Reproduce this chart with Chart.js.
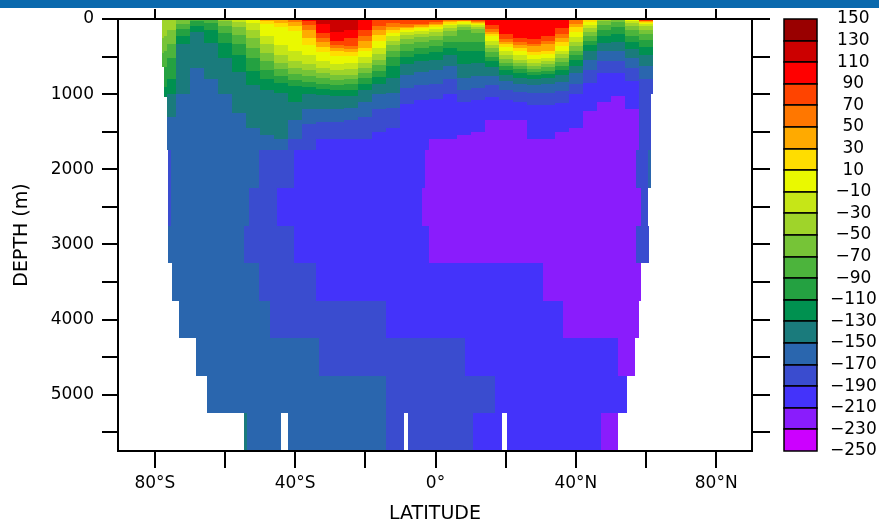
<!DOCTYPE html>
<html>
<head>
<meta charset="utf-8">
<title>Zonal section</title>
<script src="https://cdn.jsdelivr.net/npm/chart.js@4.4.1/dist/chart.umd.min.js"></script>
<style>
  body { margin: 0; background: #fff; }
  #wrap { position: relative; width: 879px; height: 525px; }
  #band { position: absolute; left: 0; top: 0; width: 879px; height: 8px; background: #0a69ad; }
  canvas { position: absolute; left: 0; top: 0; }
</style>
</head>
<body>
<div id="wrap">
  <div id="band"></div>
  <canvas id="section" width="879" height="525"></canvas>
</div>
<script>
// contour levels, top of the colour bar first
const levelTicks = [150, 130, 110, 90, 70, 50, 30, 10, -10, -30, -50, -70, -90, -110, -130, -150, -170, -190, -210, -230, -250];
const levelColors = ['#990000', '#cc0000', '#ff0000', '#ff4400', '#ff7700', '#ffaa00', '#ffdd00', '#eaf900', '#c6e617', '#9fd42a',
  '#76c437', '#4cb43c', '#24a141', '#009150', '#1a7b7c', '#2a66ae', '#3a4ccf', '#4433fa', '#8a1cfc', '#cc00ff'];

const latTicks = [-80, -60, -40, -20, 0, 20, 40, 60, 80];
const depthTicks = [0, 500, 1000, 1500, 2000, 2500, 3000, 3500, 4000, 4500, 5000, 5500];

// upper 1750 m: one column per latitude strip, as [value, bottom depth] pairs from the surface down
const upperLatEdges = [-78, -77.5, -76.5, -74, -70, -66, -62, -58, -54, -50, -46, -42, -38, -34, -30, -26, -22, -18, -14, -10,
  -6, -2, 2, 6, 10, 14, 18, 22, 26, 30, 34, 38, 42, 46, 50, 54, 58, 61.3, 62];
const upperBands = [
  [-40, 250, -60, 450, -80, 640],
  [-40, 230, -60, 430, -80, 640, -100, 900, -120, 1040],
  [-40, 150, -60, 330, -80, 520, -100, 800, -120, 1000, -140, 1300, -160, 1750],
  [-60, 60, -80, 130, -100, 220, -120, 330, -140, 1000, -160, 1750],
  [-80, 30, -100, 90, -120, 170, -140, 650, -160, 1750],
  [-80, 50, -100, 140, -120, 320, -140, 800, -160, 1750],
  [-40, 30, -60, 90, -80, 190, -100, 320, -120, 520, -140, 1000, -160, 1750],
  [-20, 40, -40, 110, -60, 210, -80, 330, -100, 480, -120, 700, -140, 1250, -160, 1750],
  [0, 50, -20, 140, -40, 250, -60, 380, -80, 520, -100, 690, -120, 880, -140, 1450, -160, 1750],
  [40, 20, 20, 70, 0, 220, -20, 330, -40, 450, -60, 560, -80, 680, -100, 800, -120, 950, -140, 1550, -160, 1750],
  [40, 50, 20, 110, 0, 350, -20, 480, -40, 580, -60, 670, -80, 760, -100, 850, -120, 980, -140, 1600, -160, 1750],
  [60, 40, 40, 90, 20, 160, 0, 420, -20, 560, -40, 650, -60, 730, -80, 810, -100, 890, -120, 1100, -140, 1350, -160, 1600, -180, 1750],
  [100, 20, 80, 80, 60, 150, 40, 250, 20, 350, 0, 480, -20, 600, -40, 680, -60, 760, -80, 840, -100, 910, -120, 1000, -140, 1200, -160, 1400, -180, 1750],
  [120, 70, 100, 190, 80, 250, 60, 300, 40, 370, 20, 440, 0, 560, -20, 650, -40, 720, -60, 790, -80, 860, -100, 930, -120, 1010, -140, 1200, -160, 1370, -180, 1600, -200, 1750],
  [120, 170, 100, 290, 80, 350, 60, 390, 40, 430, 20, 490, 0, 600, -20, 680, -40, 750, -60, 810, -80, 880, -100, 950, -120, 1030, -140, 1200, -160, 1370, -180, 1600, -200, 1750],
  [120, 140, 100, 250, 80, 360, 60, 400, 40, 440, 20, 490, 0, 590, -20, 670, -40, 740, -60, 800, -80, 870, -100, 940, -120, 1020, -140, 1180, -160, 1350, -180, 1600, -200, 1750],
  [100, 150, 80, 230, 60, 290, 40, 380, 20, 430, 0, 510, -20, 580, -40, 650, -60, 720, -80, 790, -100, 860, -120, 940, -140, 1100, -160, 1300, -180, 1600, -200, 1750],
  [80, 90, 60, 150, 40, 210, 20, 290, 0, 390, -20, 470, -40, 540, -60, 610, -80, 690, -100, 770, -120, 860, -140, 1000, -160, 1200, -180, 1500, -200, 1750],
  [80, 50, 60, 100, 40, 140, 20, 180, 0, 230, -20, 290, -40, 350, -60, 420, -80, 500, -100, 620, -120, 780, -140, 980, -160, 1180, -180, 1450, -200, 1750],
  [80, 70, 60, 100, 40, 120, 20, 145, 0, 175, -20, 215, -40, 265, -60, 330, -80, 420, -100, 500, -120, 600, -140, 740, -160, 920, -180, 1130, -200, 1750],
  [80, 60, 60, 85, 40, 105, 20, 125, 0, 155, -20, 195, -40, 245, -60, 305, -80, 385, -100, 465, -120, 565, -140, 700, -160, 880, -180, 1080, -200, 1750],
  [80, 40, 60, 65, 40, 85, 20, 105, 0, 135, -20, 175, -40, 225, -60, 285, -80, 355, -100, 440, -120, 540, -140, 680, -160, 860, -180, 1060, -200, 1600, -220, 1750],
  [60, 30, 40, 45, 20, 60, 0, 85, -20, 115, -40, 160, -60, 220, -80, 300, -100, 380, -120, 480, -140, 620, -160, 800, -180, 1000, -200, 1600, -220, 1750],
  [60, 20, 20, 40, 0, 60, -20, 80, -40, 100, -60, 140, -80, 300, -100, 430, -120, 600, -140, 780, -160, 940, -180, 1100, -200, 1550, -220, 1750],
  [80, 20, 60, 35, 40, 50, 20, 65, 0, 85, -20, 105, -40, 135, -60, 180, -80, 300, -100, 420, -120, 580, -140, 760, -160, 920, -180, 1080, -200, 1500, -220, 1750],
  [100, 80, 80, 130, 60, 170, 40, 200, 20, 230, 0, 290, -20, 340, -40, 390, -60, 440, -80, 500, -100, 560, -120, 640, -140, 760, -160, 880, -180, 1040, -200, 1350, -220, 1750],
  [100, 200, 80, 260, 60, 300, 40, 330, 20, 370, 0, 430, -20, 480, -40, 530, -60, 580, -80, 630, -100, 680, -120, 740, -140, 830, -160, 950, -180, 1080, -200, 1350, -220, 1750],
  [100, 250, 80, 300, 60, 340, 40, 380, 20, 420, 0, 480, -20, 540, -40, 590, -60, 630, -80, 670, -100, 720, -120, 780, -140, 860, -160, 970, -180, 1100, -200, 1350, -220, 1750],
  [100, 260, 80, 330, 60, 360, 40, 440, 20, 480, 0, 530, -20, 580, -40, 620, -60, 660, -80, 700, -100, 740, -120, 800, -140, 880, -160, 990, -180, 1150, -200, 1600, -220, 1750],
  [100, 220, 80, 290, 60, 330, 40, 420, 20, 470, 0, 520, -20, 560, -40, 600, -60, 640, -80, 690, -100, 730, -120, 790, -140, 870, -160, 980, -180, 1150, -200, 1600, -220, 1750],
  [100, 120, 80, 200, 60, 250, 40, 300, 20, 360, 0, 420, -20, 470, -40, 520, -60, 570, -80, 620, -100, 680, -120, 750, -140, 840, -160, 960, -180, 1120, -200, 1500, -220, 1750],
  [60, 60, 40, 110, 20, 170, 0, 240, -20, 300, -40, 360, -60, 420, -80, 480, -100, 540, -120, 620, -140, 720, -160, 860, -180, 1000, -200, 1450, -220, 1750],
  [20, 40, 0, 80, -20, 120, -40, 170, -60, 230, -80, 290, -100, 350, -120, 430, -140, 540, -160, 680, -180, 850, -200, 1230, -220, 1750],
  [-40, 30, -60, 80, -80, 150, -100, 230, -120, 320, -140, 430, -160, 560, -180, 720, -200, 1100, -220, 1750],
  [-60, 40, -80, 110, -100, 200, -120, 300, -140, 420, -160, 560, -180, 720, -200, 1030, -220, 1750],
  [0, 20, -20, 50, -40, 90, -60, 150, -80, 220, -100, 300, -120, 400, -140, 520, -160, 650, -180, 820, -200, 1200, -220, 1750],
  [80, 20, 40, 40, 20, 55, 0, 70, -20, 90, -40, 140, -60, 200, -80, 280, -100, 370, -120, 480, -140, 620, -160, 800, -180, 1750],
  [80, 20, 40, 40, 20, 55, 0, 70, -20, 90, -40, 140, -60, 200, -80, 280, -100, 370, -120, 480, -140, 620, -160, 800, -180, 1000]
];

// deep layers below 1750 m: [south edge, north edge, value]
const deepDepths = [1750, 2250, 2750, 3250, 3750, 4250, 4750, 5250, 5750];
const deepLayers = [
  [[-76.3, -75.4, -180], [-75.4, -50.2, -160], [-50.2, -40.2, -180], [-40.2, -2.9, -200], [-2.9, 57.1, -220], [57.1, 60.5, -180], [60.5, 61.4, -160]],
  [[-76.3, -75.4, -180], [-75.4, -53.3, -160], [-53.3, -45.2, -180], [-45.2, -3.8, -200], [-3.8, 58.6, -220], [58.6, 60.5, -180]],
  [[-76.3, -54.5, -160], [-54.5, -40.2, -180], [-40.2, -1.9, -200], [-1.9, 57.1, -220], [57.1, 60.9, -180]],
  [[-75.1, -50.2, -160], [-50.2, -34, -180], [-34, 30.5, -200], [30.5, 58.7, -220]],
  [[-73.1, -47.1, -160], [-47.1, -14, -180], [-14, 36.2, -200], [36.2, 58.1, -220]],
  [[-68.3, -33.3, -160], [-33.3, 8.4, -180], [8.4, 52.1, -200], [52.1, 56.8, -220]],
  [[-65, -14, -160], [-14, 16.9, -180], [16.9, 54.7, -200]],
  [[-54.5, -53.8, -140], [-53.8, -44, -160], [-42.1, -14, -160], [-14, -9, -180], [-7.9, 10.8, -180], [10.8, 19, -200], [20.3, 47.1, -200], [47.1, 52.1, -220]]
];

const MINUS = '\u2212';
const FONT = 'DejaVu Sans';

function colorFor(v) {
  let i = Math.floor((levelTicks[0] - v) / 20);
  i = Math.max(0, Math.min(levelColors.length - 1, i));
  return levelColors[i];
}

function latLabel(v) {
  if (v % 40 !== 0) return '';
  if (v === 0) return '0°';
  return v < 0 ? (-v) + '°S' : v + '°N';
}

// filled section cells and the colour bar, both placed through the chart scales
const shading = {
  id: 'shading',
  beforeDatasetsDraw(chart) {
    const { ctx, scales, chartArea } = chart;
    const x = scales.x, y = scales.y, cb = scales.cbar;
    const cell = (lat0, lat1, d0, d1, v) => {
      const x0 = Math.round(x.getPixelForValue(lat0));
      const x1 = Math.round(x.getPixelForValue(lat1));
      const y0 = Math.round(y.getPixelForValue(d0));
      const y1 = Math.round(y.getPixelForValue(d1));
      ctx.fillStyle = colorFor(v);
      ctx.fillRect(x0, y0, x1 - x0, y1 - y0);
    };
    ctx.save();
    upperBands.forEach((bands, i) => {
      let top = 0;
      for (let k = 0; k < bands.length; k += 2) {
        cell(upperLatEdges[i], upperLatEdges[i + 1], top, bands[k + 1], bands[k]);
        top = bands[k + 1];
      }
    });
    deepLayers.forEach((layer, j) => {
      layer.forEach(([lat0, lat1, v]) => cell(lat0, lat1, deepDepths[j], deepDepths[j + 1], v));
    });

    // colour bar boxes, a little to the right of the frame
    const left = Math.round(chartArea.right) + 32, w = 33;
    ctx.strokeStyle = '#000';
    ctx.lineWidth = 1.5;
    for (let i = 0; i < levelColors.length; i++) {
      const t = Math.round(cb.getPixelForValue(levelTicks[i]));
      const b = Math.round(cb.getPixelForValue(levelTicks[i + 1]));
      ctx.fillStyle = levelColors[i];
      ctx.fillRect(left, t, w, b - t);
      ctx.strokeRect(left, t, w, b - t);
    }
    ctx.restore();
  }
};

const tickFont = { family: FONT, size: 17 };
const titleFont = { family: FONT, size: 19 };

new Chart(document.getElementById('section'), {
  type: 'scatter',
  data: { datasets: [] },
  plugins: [shading],
  options: {
    responsive: false,
    animation: false,
    events: [],
    layout: { padding: 0 },
    plugins: { legend: { display: false }, tooltip: { enabled: false } },
    scales: {
      x: {
        type: 'linear', position: 'bottom', min: -90.5, max: 90.2,
        afterBuildTicks: s => { s.ticks = latTicks.map(v => ({ value: v })); },
        afterFit: s => { s.height = 74; },
        ticks: { callback: v => latLabel(v), font: tickFont, color: '#000', padding: 5, maxRotation: 0, autoSkip: false },
        grid: { drawOnChartArea: false, tickLength: 17, color: '#000', lineWidth: 2 },
        border: { color: '#000', width: 2, z: 1 },
        title: { display: true, text: 'LATITUDE', font: titleFont, color: '#000', padding: { top: 0, bottom: 0 } }
      },
      xTop: {
        type: 'linear', position: 'top', min: -90.5, max: 90.2,
        afterBuildTicks: s => { s.ticks = latTicks.map(v => ({ value: v })); },
        afterFit: s => { s.height = 19; },
        ticks: { display: false },
        grid: { drawOnChartArea: false, tickLength: 10, color: '#000', lineWidth: 2 },
        border: { color: '#000', width: 2, z: 1 }
      },
      y: {
        type: 'linear', position: 'left', min: 0, max: 5750, reverse: true,
        afterBuildTicks: s => { s.ticks = depthTicks.map(v => ({ value: v })); },
        afterFit: s => { s.width = 118; },
        ticks: { callback: v => (v % 1000 === 0 ? String(v) : ''), font: tickFont, color: '#000', padding: 8, autoSkip: false },
        grid: { drawOnChartArea: false, tickLength: 16, color: '#000', lineWidth: 2 },
        border: { color: '#000', width: 2, z: 1 },
        title: { display: true, text: 'DEPTH (m)', font: titleFont, color: '#000', padding: { top: 11, bottom: 0 } }
      },
      yRight: {
        type: 'linear', position: 'right', min: 0, max: 5750, reverse: true, weight: 0,
        afterBuildTicks: s => { s.ticks = depthTicks.map(v => ({ value: v })); },
        afterFit: s => { s.width = 78; },
        ticks: { display: false },
        grid: { drawOnChartArea: false, tickLength: 18, color: '#000', lineWidth: 2 },
        border: { color: '#000', width: 2, z: 1 }
      },
      cbar: {
        type: 'linear', position: 'right', min: -250, max: 150, weight: 1,
        afterBuildTicks: s => { s.ticks = levelTicks.map(v => ({ value: v })); },
        afterFit: s => { s.width = 49; },
        ticks: {
          callback: v => (v < 0 ? MINUS + (-v) : String(v)),
          font: tickFont, color: '#000', padding: 0, crossAlign: 'center', autoSkip: false
        },
        grid: { display: false, drawTicks: false },
        border: { display: false }
      }
    }
  }
});
</script>
</body>
</html>
